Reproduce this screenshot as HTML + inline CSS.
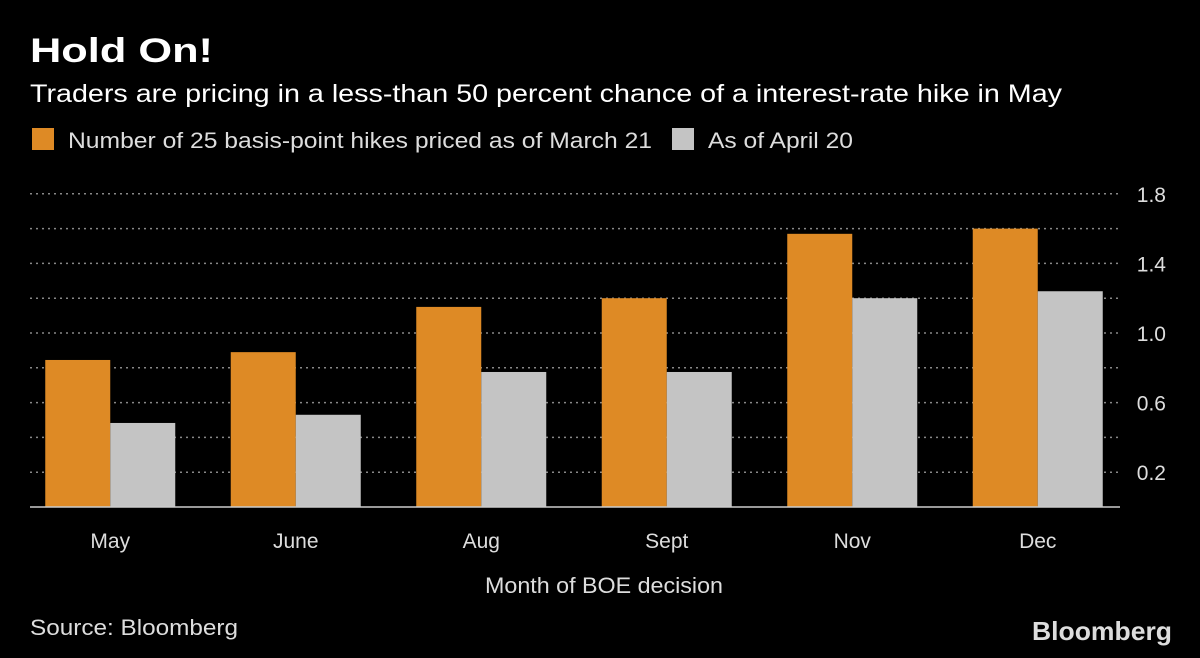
<!DOCTYPE html>
<html><head><meta charset="utf-8"><style>
body{margin:0;background:#000;width:1200px;height:658px;overflow:hidden;font-family:"Liberation Sans",sans-serif;color:#fff}
svg{display:block}
svg text{font-family:"Liberation Sans",sans-serif}
</style></head><body>
<svg width="1200" height="658">
<text x="30" y="62" font-size="34" font-weight="bold" fill="#fff" textLength="183" lengthAdjust="spacingAndGlyphs">Hold On!</text>
<text x="30" y="102" font-size="25" fill="#fff" textLength="1032" lengthAdjust="spacingAndGlyphs">Traders are pricing in a less-than 50 percent chance of a interest-rate hike in May</text>
<rect x="32" y="128" width="22" height="22" fill="#de8a25"/>
<text x="68" y="148" font-size="22" fill="#ddd" textLength="584" lengthAdjust="spacingAndGlyphs">Number of 25 basis-point hikes priced as of March 21</text>
<rect x="672" y="128" width="22" height="22" fill="#c4c4c4"/>
<text x="708" y="148" font-size="22" fill="#ddd" textLength="145" lengthAdjust="spacingAndGlyphs">As of April 20</text>
<g id="grid"></g><g id="bars"></g><g id="labels"></g>
<line x1="30" y1="507" x2="1120" y2="507" stroke="#ccc" stroke-width="1.5"/>
<text x="485" y="593" font-size="22" fill="#ddd" textLength="238" lengthAdjust="spacingAndGlyphs">Month of BOE decision</text>
<text x="30" y="635" font-size="22" fill="#ddd" textLength="208" lengthAdjust="spacingAndGlyphs">Source: Bloomberg</text>
<text x="1032" y="640" font-size="26" font-weight="bold" fill="#ddd" textLength="140" lengthAdjust="spacingAndGlyphs">Bloomberg</text>
</svg>
<script>
const categories=["May","June","Aug","Sept","Nov","Dec"];
const march=[0.845,0.89,1.15,1.2,1.57,1.6];
const april=[0.483,0.53,0.776,0.776,1.2,1.24];
const ticks=[0.2,0.4,0.6,0.8,1.0,1.2,1.4,1.6,1.8];
const tickLabels=["0.2","","0.6","","1.0","","1.4","","1.8"];
const NS="http://www.w3.org/2000/svg";
const y=v=>507-v*174;
const band=185.5,x0=17.5,bw=65;
const xc=i=>x0+band*(i+0.5);
function mk(t,a,p){const e=document.createElementNS(NS,t);for(const k in a)e.setAttribute(k,a[k]);p.appendChild(e);return e;}
const G=document.getElementById('grid'),B=document.getElementById('bars'),L=document.getElementById('labels');
ticks.forEach((v,i)=>{
 const l=mk('line',{x1:30,x2:1120,y1:y(v),y2:y(v),stroke:'#888','stroke-width':1.5,'stroke-dasharray':'2,4'},G);
 
 
 if(tickLabels[i]){const t=mk('text',{x:1166,y:y(v)+8,'font-size':21,fill:'#ddd','text-anchor':'end'},L);t.textContent=tickLabels[i];
 
 }
});
categories.forEach((c,i)=>{
 const a=mk('rect',{x:xc(i)-bw,y:y(march[i]),width:bw,height:march[i]*174,fill:'#de8a25'},B);
 
 
 const b=mk('rect',{x:xc(i),y:y(april[i]),width:bw,height:april[i]*174,fill:'#c4c4c4'},B);
 
 
 const t=mk('text',{x:xc(i),y:548,'font-size':21,fill:'#ddd','text-anchor':'middle'},L);t.textContent=c;
 
 
});
</script>
</body></html>
